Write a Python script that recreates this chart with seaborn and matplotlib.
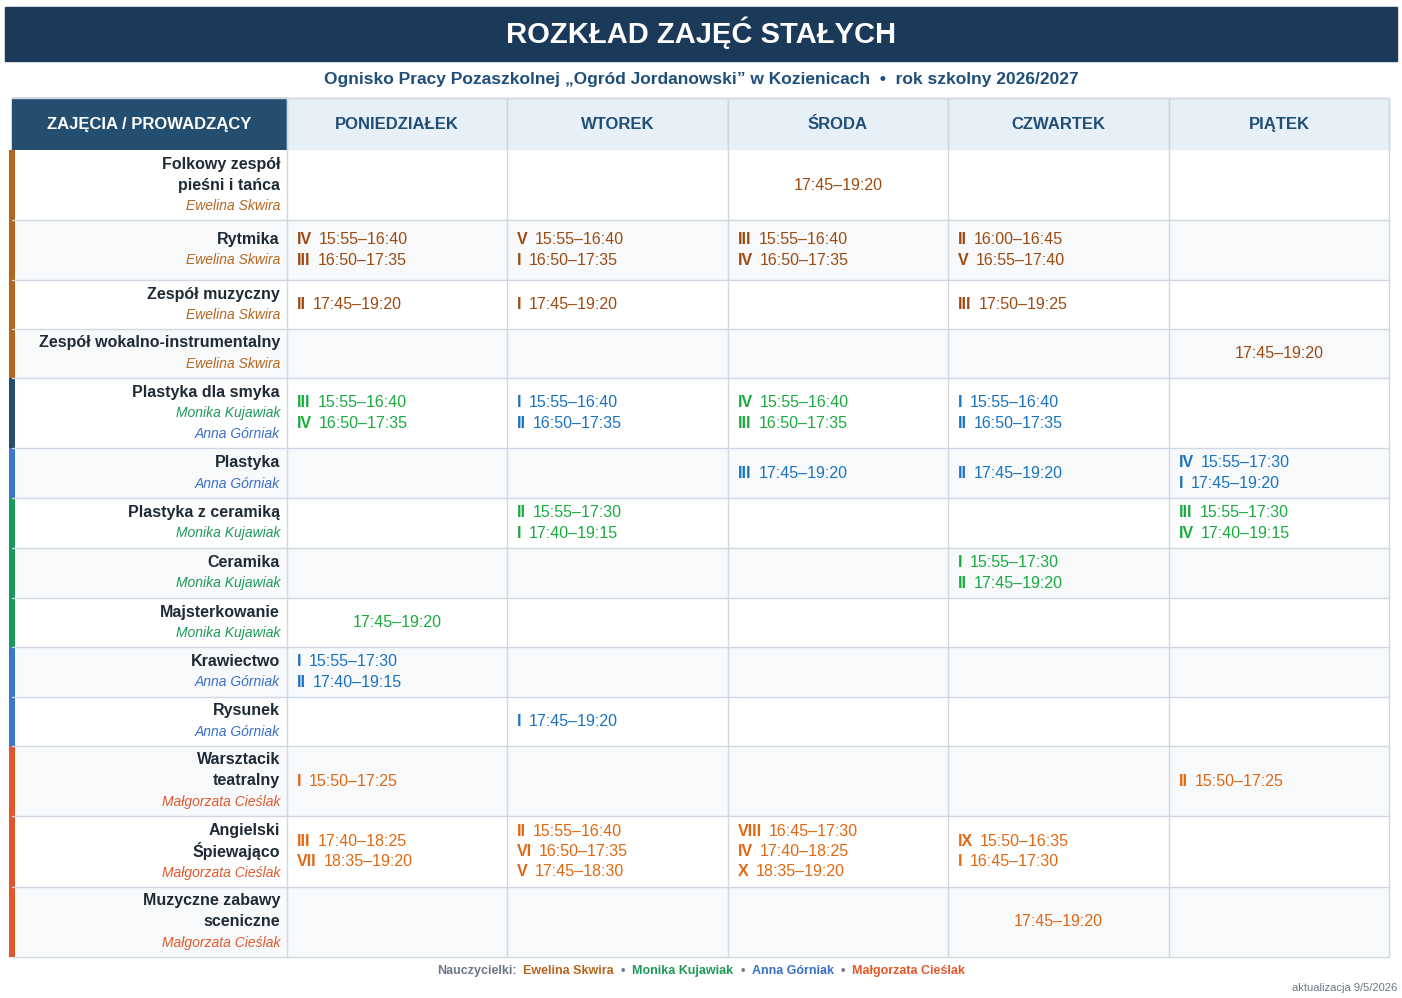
import matplotlib
matplotlib.use("Agg")
import matplotlib.pyplot as plt
import seaborn as sns
from matplotlib.patches import Rectangle

sns.set_theme(style="white")
plt.rcParams['font.family'] = ['Liberation Sans', 'DejaVu Sans']

TITLE = "ROZKŁAD ZAJĘĆ STAŁYCH"
SUBTITLE = "Ognisko Pracy Pozaszkolnej „Ogród Jordanowski” w Kozienicach  •  rok szkolny 2026/2027"
HEAD0 = "ZAJĘCIA / PROWADZĄCY"
days = ["PONIEDZIAŁEK", "WTOREK", "ŚRODA", "CZWARTEK", "PIĄTEK"]

teachers = ["Ewelina Skwira", "Monika Kujawiak", "Anna Górniak", "Małgorzata Cieślak"]
teacher_name_col = {"Ewelina Skwira": "#b5651d", "Monika Kujawiak": "#1a9a55",
                    "Anna Górniak": "#3a6fc4", "Małgorzata Cieślak": "#e0582a"}
teacher_time_col = {"Ewelina Skwira": "#9c4a10", "Monika Kujawiak": "#1aaa40",
                    "Anna Górniak": "#1a72c0", "Małgorzata Cieślak": "#e06810"}

activities = [["Folkowy zespół", "pieśni i tańca"], ["Rytmika"], ["Zespół muzyczny"],
              ["Zespół wokalno-instrumentalny"], ["Plastyka dla smyka"], ["Plastyka"],
              ["Plastyka z ceramiką"], ["Ceramika"], ["Majsterkowanie"], ["Krawiectwo"],
              ["Rysunek"], ["Warsztacik", "teatralny"], ["Angielski", "Śpiewająco"],
              ["Muzyczne zabawy", "sceniczne"]]
leaders = [["Ewelina Skwira"]] * 4 + [["Monika Kujawiak", "Anna Górniak"], ["Anna Górniak"],
           ["Monika Kujawiak"], ["Monika Kujawiak"], ["Monika Kujawiak"], ["Anna Górniak"],
           ["Anna Górniak"]] + [["Małgorzata Cieślak"]] * 3
bar_colors = ["#b5651d"] * 4 + ["#234e70", "#3a78c9", "#1a9a5a", "#1a9a5a", "#1a9a5a",
                                "#3a78c9", "#3a78c9"] + ["#e0582a"] * 3
time_owner = ["Ewelina Skwira"] * 4 + ["Monika Kujawiak", "Anna Górniak", "Monika Kujawiak",
              "Monika Kujawiak", "Monika Kujawiak", "Anna Górniak", "Anna Górniak"] + ["Małgorzata Cieślak"] * 3

schedule = [
    [[], [], [("", "17:45–19:20")], [], []],
    [[("IV", "15:55–16:40"), ("III", "16:50–17:35")], [("V", "15:55–16:40"), ("I", "16:50–17:35")],
     [("III", "15:55–16:40"), ("IV", "16:50–17:35")], [("II", "16:00–16:45"), ("V", "16:55–17:40")], []],
    [[("II", "17:45–19:20")], [("I", "17:45–19:20")], [], [("III", "17:50–19:25")], []],
    [[], [], [], [], [("", "17:45–19:20")]],
    [[("III", "15:55–16:40"), ("IV", "16:50–17:35")], [("I", "15:55–16:40"), ("II", "16:50–17:35")],
     [("IV", "15:55–16:40"), ("III", "16:50–17:35")], [("I", "15:55–16:40"), ("II", "16:50–17:35")], []],
    [[], [], [("III", "17:45–19:20")], [("II", "17:45–19:20")], [("IV", "15:55–17:30"), ("I", "17:45–19:20")]],
    [[], [("II", "15:55–17:30"), ("I", "17:40–19:15")], [], [], [("III", "15:55–17:30"), ("IV", "17:40–19:15")]],
    [[], [], [], [("I", "15:55–17:30"), ("II", "17:45–19:20")], []],
    [[("", "17:45–19:20")], [], [], [], []],
    [[("I", "15:55–17:30"), ("II", "17:40–19:15")], [], [], [], []],
    [[], [("I", "17:45–19:20")], [], [], []],
    [[("I", "15:50–17:25")], [], [], [], [("II", "15:50–17:25")]],
    [[("III", "17:40–18:25"), ("VII", "18:35–19:20")],
     [("II", "15:55–16:40"), ("VI", "16:50–17:35"), ("V", "17:45–18:30")],
     [("VIII", "16:45–17:30"), ("IV", "17:40–18:25"), ("X", "18:35–19:20")],
     [("IX", "15:50–16:35"), ("I", "16:45–17:30")], []],
    [[], [], [], [("", "17:45–19:20")], []],
]
# per-row plastyka dla smyka times are green Monday/Wednesday, blue Tue/Thu
cell_owner_override = {(4, 1): "Anna Górniak", (4, 3): "Anna Górniak"}
row_edges = [150, 220, 280, 329, 378, 448, 498, 548, 598, 647, 697, 746, 816, 887, 957]
col_edges = [12, 287, 507, 728, 948, 1169, 1389]
UPDATE = "aktualizacja 9/5/2026"

fig = plt.figure(figsize=(14.02, 9.98), dpi=100)
ax = fig.add_axes([0, 0, 1, 1])
ax.set_xlim(0, 1402); ax.set_ylim(998, 0); ax.axis("off")
fig.canvas.draw()
R = fig.canvas.get_renderer()

def width(t):
    bb = t.get_window_extent(renderer=R)
    return bb.width

ax.add_patch(Rectangle((5, 7), 1392, 54, color="#1b3a5a"))
ax.text(701, 33, TITLE, color="white", fontsize=21, weight="bold", ha="center", va="center")
ax.text(701, 79, SUBTITLE, color="#1f4e79", fontsize=12.5, weight="bold", ha="center", va="center")

grid = "#cfd8e2"
# header
ax.add_patch(Rectangle((col_edges[0], 98), col_edges[1] - col_edges[0], 52, color="#234e70"))
ax.text((col_edges[0] + col_edges[1]) / 2, 124, HEAD0, color="white", fontsize=12, weight="bold", ha="center", va="center")
for i, d in enumerate(days):
    x0, x1 = col_edges[i + 1], col_edges[i + 2]
    ax.add_patch(Rectangle((x0, 98), x1 - x0, 52, facecolor="#e8f0f7", edgecolor=grid, lw=1))
    ax.text((x0 + x1) / 2, 124, d, color="#1f4e79", fontsize=12, weight="bold", ha="center", va="center")

for r in range(len(activities)):
    y0, y1 = row_edges[r], row_edges[r + 1]
    bg = "white" if r % 2 == 0 else "#f7f9fb"
    ax.add_patch(Rectangle((col_edges[0], y0), col_edges[-1] - col_edges[0], y1 - y0, facecolor=bg, edgecolor="none"))
    ax.plot([col_edges[0], col_edges[-1]], [y1, y1], color=grid, lw=1)
    ax.add_patch(Rectangle((9, y0), 6, y1 - y0, color=bar_colors[r], lw=0))
    # label
    lines = [(t, "#1f2a36", "bold", "normal", 11.5) for t in activities[r]] + \
            [(t, teacher_name_col[t], "normal", "italic", 10) for t in leaders[r]]
    lh = 21
    ystart = (y0 + y1) / 2 - lh * (len(lines) - 1) / 2
    for k, (t, c, w, s, fs) in enumerate(lines):
        ax.text(280, ystart + k * lh, t, color=c, weight=w, style=s, fontsize=fs, ha="right", va="center")
    # cells
    for d in range(5):
        ents = schedule[r][d]
        if not ents:
            continue
        owner = cell_owner_override.get((r, d), time_owner[r])
        c = teacher_time_col[owner]
        x0, x1 = col_edges[d + 1], col_edges[d + 2]
        lh2 = 20.5
        ys = (y0 + y1) / 2 - lh2 * (len(ents) - 1) / 2
        for k, (rom, tm) in enumerate(ents):
            y = ys + k * lh2
            if rom == "":
                ax.text((x0 + x1) / 2, y, tm, color=c, fontsize=11.5, ha="center", va="center")
            else:
                t = ax.text(x0 + 10, y, rom, color=c, fontsize=11.5, weight="bold", ha="left", va="center")
                ax.text(x0 + 10 + width(t) + 7, y, tm, color=c, fontsize=11.5, ha="left", va="center")

for x in col_edges[1:]:
    ax.plot([x, x], [98, row_edges[-1]], color=grid, lw=1)
ax.plot([col_edges[0], col_edges[-1]], [98, 98], color=grid, lw=1)

# footer legend
parts = [("Nauczycielki:", "#6b7785")]
for i, t in enumerate(teachers):
    parts.append((t, teacher_name_col[t]))
    if i < len(teachers) - 1:
        parts.append(("•", "#6b7785"))
tmp = [ax.text(0, 0, p, fontsize=9, weight="bold") for p, _ in parts]
ws = [width(t) for t in tmp]
for t in tmp:
    t.remove()
gap = 7
total = sum(ws) + gap * (len(ws) - 1)
x = 701 - total / 2
for (p, c), w in zip(parts, ws):
    ax.text(x, 971, p, color=c, fontsize=9, weight="bold", ha="left", va="center")
    x += w + gap
ax.text(1397, 988, UPDATE, color="#6b7785", fontsize=8, ha="right", va="center")

fig.savefig("out.png", dpi=100, facecolor="white")
